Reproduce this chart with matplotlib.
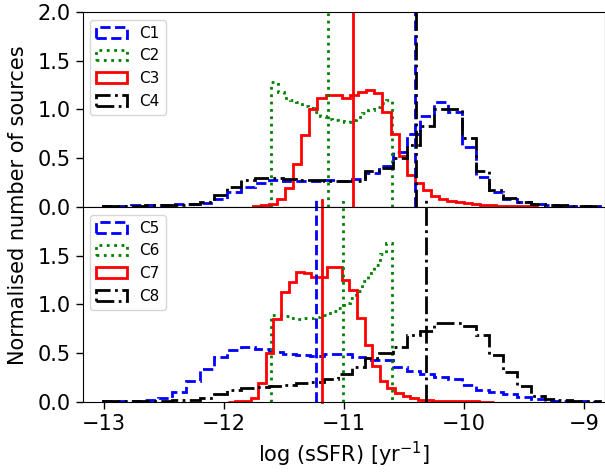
import numpy as np
import matplotlib
matplotlib.use('Agg')
import matplotlib.pyplot as plt

# ---- bin grids (start, width) ----
wide_start, wide_width = -13.01, 0.115      # C1, C4, C5, C8
c3_start, c3_width = -11.765, 0.0677        # C3
c7_start, c7_width = -11.97, 0.0633         # C7
sel_lo, sel_hi = -11.607, -10.60            # C2, C6 selection range

# ---- normalised histogram heights ----
c1 = [0.01, 0.01, 0.02, 0.02, 0.02, 0.03, 0.03, 0.04, 0.08, 0.15, 0.20, 0.25,
      0.28, 0.27, 0.27, 0.27, 0.28, 0.27, 0.29, 0.35, 0.42, 0.56, 0.75, 0.93,
      1.08, 0.97, 0.62, 0.31, 0.15, 0.08, 0.05, 0.03, 0.02, 0.01, 0.01, 0.005]
c2 = [1.28, 1.18, 1.12, 1.10, 1.08, 1.04, 1.02, 0.97, 0.93, 0.90,
      0.89, 0.88, 0.87, 0.89, 0.92, 0.96, 0.99, 1.03, 1.07, 1.10]
c3 = [0.005, 0.02, 0.03, 0.08, 0.19, 0.44, 0.74, 1.01, 1.12, 1.15, 1.15, 1.12,
      1.15, 1.18, 1.20, 1.17, 0.97, 0.75, 0.52, 0.33, 0.25, 0.17, 0.11, 0.08,
      0.06, 0.05, 0.04, 0.03, 0.02, 0.02, 0.015, 0.01, 0.01, 0.005, 0.005]
c4 = [0.01, 0.01, 0.01, 0.02, 0.02, 0.02, 0.03, 0.05, 0.12, 0.20, 0.28, 0.30,
      0.30, 0.29, 0.28, 0.28, 0.27, 0.27, 0.27, 0.37, 0.40, 0.50, 0.64, 0.83,
      1.00, 1.00, 0.71, 0.37, 0.17, 0.09, 0.05, 0.03, 0.02, 0.02, 0.01, 0.005]
c5 = [0.01, 0.01, 0.01, 0.02, 0.04, 0.10, 0.22, 0.34, 0.46, 0.53, 0.56, 0.54,
      0.51, 0.49, 0.48, 0.47, 0.49, 0.49, 0.46, 0.43, 0.43, 0.36, 0.32, 0.29,
      0.26, 0.24, 0.17, 0.12, 0.10, 0.08, 0.05, 0.03, 0.01, 0.01, 0.005, 0.0]
c6 = [0.89, 0.89, 0.88, 0.86, 0.85, 0.86, 0.86, 0.87, 0.89, 0.91,
      0.93, 0.96, 1.02, 1.07, 1.14, 1.24, 1.32, 1.40, 1.52, 1.63]
c7 = [0.003, 0.005, 0.01, 0.04, 0.19, 0.50, 0.85, 1.13, 1.23, 1.33, 1.32, 1.28,
      1.28, 1.38, 1.38, 1.25, 1.15, 0.86, 0.58, 0.37, 0.22, 0.14, 0.09, 0.06,
      0.04, 0.02, 0.015, 0.01, 0.01, 0.01, 0.005, 0.005, 0.005, 0.003, 0.003]
c8 = [0.005, 0.005, 0.01, 0.01, 0.01, 0.02, 0.02, 0.04, 0.08, 0.12, 0.14, 0.15,
      0.16, 0.17, 0.19, 0.20, 0.24, 0.29, 0.36, 0.45, 0.50, 0.56, 0.69, 0.73,
      0.81, 0.81, 0.78, 0.69, 0.48, 0.31, 0.16, 0.06, 0.03, 0.02, 0.01, 0.005]

# ---- medians (vertical lines) ----
med_top = {'C1': -10.407, 'C2': -11.132, 'C3': -10.926, 'C4': -10.40}
med_bot = {'C5': -11.232, 'C6': -11.007, 'C7': -11.19, 'C8': -10.32}

labels_top = ['C1', 'C2', 'C3', 'C4']
labels_bot = ['C5', 'C6', 'C7', 'C8']
colors = ['b', 'g', 'r', 'k']
styles = ['--', ':', '-', '-.']


def grid(start, width, n):
    return start + width * np.arange(n + 1)


def edges_for(vals, kind):
    n = len(vals)
    if kind == 'wide':
        return grid(wide_start, wide_width, n)
    if kind == 'c3':
        return grid(c3_start, c3_width, n)
    if kind == 'c7':
        return grid(c7_start, c7_width, n)
    return np.linspace(sel_lo, sel_hi, n + 1)


fig = plt.figure(figsize=(6.05, 4.72), dpi=100)
left, width = 0.1367, 0.8628
ax1 = fig.add_axes([left, 0.5615, width, 0.4131])
ax2 = fig.add_axes([left, 0.1484, width, 0.4131], sharex=ax1)

top_sets = [(c1, 'wide'), (c2, 'sel'), (c3, 'c3'), (c4, 'wide')]
bot_sets = [(c5, 'wide'), (c6, 'sel'), (c7, 'c7'), (c8, 'wide')]

lw = 2.0
for ax, sets, labs, meds, over in [(ax1, top_sets, labels_top, med_top, False),
                                   (ax2, bot_sets, labels_bot, med_bot, True)]:
    for (vals, kind), lab, col, ls in zip(sets, labs, colors, styles):
        e = edges_for(vals, kind)
        ax.hist(e[:-1], bins=e, weights=vals, histtype='step', color=col,
                linestyle=ls, linewidth=lw, label=lab)
    for lab, col, ls in zip(labs, colors, styles):
        if over:
            ax.axvline(meds[lab], ymin=0, ymax=1.035, color=col, linestyle=ls,
                       linewidth=lw, clip_on=False)
        else:
            ax.axvline(meds[lab], color=col, linestyle=ls, linewidth=lw)
    ax.set_ylim(0, 2.0)
    ax.legend(loc='upper left', fontsize=11, handlelength=2.0)
    ax.tick_params(labelsize=15, length=5, width=1)

ax1.set_xlim(-13.18, -8.83)
ax1.set_yticks([0.0, 0.5, 1.0, 1.5, 2.0])
ax2.set_yticks([0.0, 0.5, 1.0, 1.5])
ax2.set_xticks([-13, -12, -11, -10, -9])
plt.setp(ax1.get_xticklabels(), visible=False)
ax2.set_xlabel(r'log (sSFR) [yr$^{-1}$]', fontsize=15)
fig.text(0.03, 0.566, 'Normalised number of sources', rotation=90,
         ha='center', va='center', fontsize=15)

fig.savefig('out.png', dpi=100)
